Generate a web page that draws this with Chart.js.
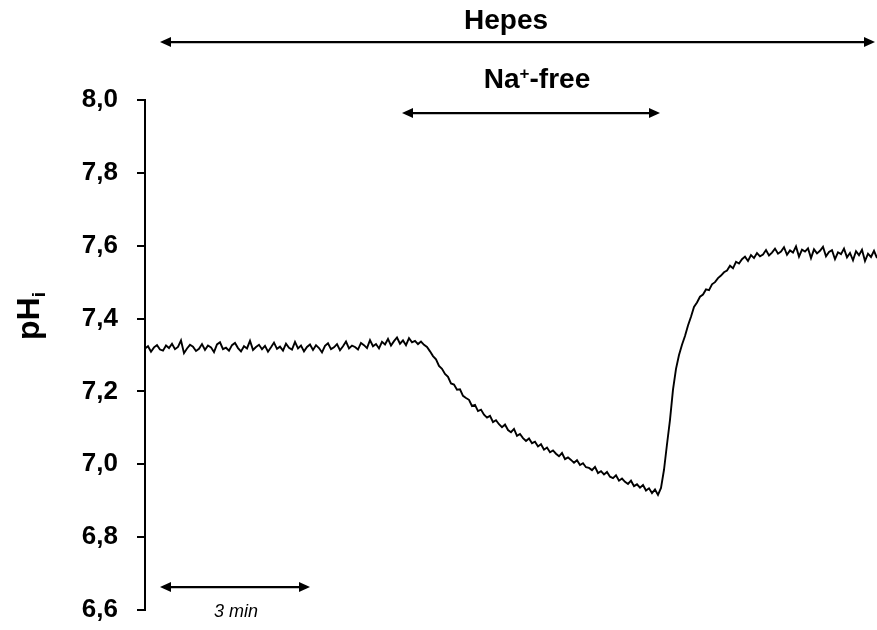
<!DOCTYPE html>
<html>
<head>
<meta charset="utf-8">
<script src="https://cdn.jsdelivr.net/npm/chart.js@4/dist/chart.umd.min.js"></script>
<style>
  html, body { margin: 0; padding: 0; background: #fff; overflow: hidden; }
  canvas { display: block; }
</style>
</head>
<body>
<canvas id="phChart" width="877" height="630"></canvas>
<script>
// pHi trace, one sample every 0.06 min
const sampleStep = 0.06;
const tMax = 14.64;

const baseline = [
  7.318, 7.324, 7.309, 7.321, 7.327, 7.315, 7.312, 7.326, 7.319, 7.331,
  7.316, 7.322, 7.340, 7.305, 7.318, 7.328, 7.323, 7.311, 7.317, 7.330,
  7.314, 7.326, 7.321, 7.308, 7.329, 7.335, 7.316, 7.320, 7.312, 7.327,
  7.333, 7.319, 7.310, 7.324, 7.318, 7.339, 7.314, 7.322, 7.328, 7.316,
  7.325, 7.309, 7.321, 7.334, 7.317, 7.323, 7.312, 7.331, 7.320, 7.315,
  7.336, 7.318, 7.326, 7.310, 7.322, 7.329, 7.314, 7.327, 7.319, 7.307,
  7.325, 7.332, 7.316, 7.321, 7.330, 7.313, 7.324, 7.337, 7.318, 7.326,
  7.322, 7.315, 7.333, 7.327, 7.319, 7.341, 7.324, 7.330, 7.318, 7.336,
  7.329, 7.344, 7.326, 7.338, 7.348, 7.331, 7.340, 7.327, 7.346, 7.335,
  7.339, 7.330, 7.337, 7.328
];

const naFree = [
  7.322, 7.310, 7.297, 7.288, 7.270, 7.262, 7.248, 7.240, 7.222, 7.219,
  7.205, 7.206, 7.188, 7.182, 7.177, 7.160, 7.163, 7.146, 7.150, 7.136,
  7.128, 7.133, 7.116, 7.121, 7.110, 7.102, 7.109, 7.094, 7.088, 7.097,
  7.078, 7.083, 7.072, 7.064, 7.071, 7.058, 7.062, 7.049, 7.055, 7.040,
  7.046, 7.033, 7.038, 7.029, 7.022, 7.031, 7.014, 7.019, 7.012, 7.004,
  7.011, 6.998, 7.003, 6.992, 6.990, 6.984, 6.993, 6.976, 6.981, 6.972,
  6.979, 6.966, 6.962, 6.970, 6.955, 6.961, 6.952, 6.946, 6.955, 6.940,
  6.945, 6.936, 6.943, 6.928, 6.934, 6.921, 6.931, 6.916
];

const recovery = [
  6.935, 6.985, 7.055, 7.122, 7.205, 7.262, 7.300, 7.328, 7.352, 7.381,
  7.405, 7.432, 7.444, 7.460, 7.466, 7.480, 7.478, 7.494, 7.500, 7.511,
  7.518, 7.527, 7.532, 7.545, 7.538, 7.556, 7.551, 7.563, 7.570, 7.558,
  7.574, 7.566, 7.580, 7.571, 7.576, 7.588, 7.573, 7.581, 7.592, 7.578,
  7.584, 7.596, 7.575, 7.587, 7.581, 7.598, 7.570, 7.589, 7.584, 7.593,
  7.566, 7.590, 7.579, 7.586, 7.597, 7.571, 7.583, 7.588, 7.563, 7.582,
  7.577, 7.592, 7.568, 7.580, 7.560, 7.585, 7.574, 7.589, 7.558, 7.578,
  7.569, 7.586, 7.566
];

const phValues = baseline.concat(naFree, recovery);
const points = phValues.map((v, i) => ({ x: i * sampleStep, y: v }));

function arrow(ctx, x1, x2, y) {
  const head = 11;
  ctx.beginPath();
  ctx.moveTo(x1 + 4, y);
  ctx.lineTo(x2 - 4, y);
  ctx.lineWidth = 2.2;
  ctx.stroke();
  ctx.beginPath();
  ctx.moveTo(x1, y);
  ctx.lineTo(x1 + head, y - 5);
  ctx.lineTo(x1 + head, y + 5);
  ctx.closePath();
  ctx.fill();
  ctx.beginPath();
  ctx.moveTo(x2, y);
  ctx.lineTo(x2 - head, y - 5);
  ctx.lineTo(x2 - head, y + 5);
  ctx.closePath();
  ctx.fill();
}

const annotations = {
  id: "annotations",
  afterDraw(chart) {
    const ctx = chart.ctx;
    const xs = chart.scales.x;
    const ys = chart.scales.y;
    ctx.save();
    ctx.fillStyle = "#000";
    ctx.strokeStyle = "#000";

    // Hepes
    let yA = ys.getPixelForValue(8.159);
    arrow(ctx, xs.getPixelForValue(0.3), xs.getPixelForValue(14.6), yA);
    ctx.font = "bold 28px 'Liberation Sans', Arial, sans-serif";
    ctx.textAlign = "center";
    ctx.textBaseline = "alphabetic";
    ctx.fillText("Hepes", xs.getPixelForValue(7.22), yA - 13);

    // Na+-free
    yA = ys.getPixelForValue(7.964);
    arrow(ctx, xs.getPixelForValue(5.14), xs.getPixelForValue(10.3), yA);
    ctx.textAlign = "left";
    const big = "bold 28px 'Liberation Sans', Arial, sans-serif";
    const small = "bold 17px 'Liberation Sans', Arial, sans-serif";
    ctx.font = big;
    const wNa = ctx.measureText("Na").width;
    const wFree = ctx.measureText("-free").width;
    ctx.font = small;
    const wPlus = ctx.measureText("+").width;
    let tx = xs.getPixelForValue(7.84) - (wNa + wPlus + wFree) / 2;
    const by = yA - 25;
    ctx.font = big;
    ctx.fillText("Na", tx, by);
    ctx.font = small;
    ctx.fillText("+", tx + wNa, by - 9);
    ctx.font = big;
    ctx.fillText("-free", tx + wNa + wPlus, by);

    // 3 min scale bar
    yA = ys.getPixelForValue(6.663);
    arrow(ctx, xs.getPixelForValue(0.3), xs.getPixelForValue(3.3), yA);
    ctx.font = "italic 18px 'Liberation Sans', Arial, sans-serif";
    ctx.textAlign = "center";
    ctx.fillText("3 min", xs.getPixelForValue(1.82), yA + 30);

    // y title pH(i)
    ctx.translate(39, ys.top + 216);
    ctx.rotate(-Math.PI / 2);
    ctx.font = "bold 32px 'Liberation Sans', Arial, sans-serif";
    const wPH = ctx.measureText("pH").width;
    ctx.font = "bold 19px 'Liberation Sans', Arial, sans-serif";
    const wI = ctx.measureText("i").width;
    const sx = -(wPH + wI) / 2;
    ctx.textAlign = "left";
    ctx.font = "bold 32px 'Liberation Sans', Arial, sans-serif";
    ctx.fillText("pH", sx, 0);
    ctx.font = "bold 19px 'Liberation Sans', Arial, sans-serif";
    ctx.fillText("i", sx + wPH, 6);
    ctx.restore();
  }
};

new Chart(document.getElementById("phChart"), {
  type: "line",
  data: {
    datasets: [{
      data: points,
      borderColor: "#000",
      borderWidth: 1.9,
      pointRadius: 0,
      tension: 0,
      fill: false
    }]
  },
  options: {
    responsive: false,
    animation: false,
    devicePixelRatio: 1,
    layout: { padding: { top: 100, bottom: 20, left: 0, right: 0 } },
    plugins: { legend: { display: false }, tooltip: { enabled: false } },
    scales: {
      x: { type: "linear", min: 0, max: tMax, display: false },
      y: {
        min: 6.6,
        max: 8.0,
        afterFit(scale) {
          scale.width = 145;
          scale.paddingTop = 0;
          scale.paddingBottom = 0;
        },
        ticks: {
          stepSize: 0.2,
          padding: 19,
          color: "#000",
          font: { family: "'Liberation Sans', Arial, sans-serif", size: 26, weight: "bold" },
          callback: (v) => v.toFixed(1).replace(".", ",")
        },
        grid: {
          drawOnChartArea: false,
          drawTicks: true,
          tickLength: 8,
          color: "#000",
          lineWidth: 2
        },
        border: { display: true, color: "#000", width: 2 }
      }
    }
  },
  plugins: [annotations]
});
</script>
</body>
</html>
